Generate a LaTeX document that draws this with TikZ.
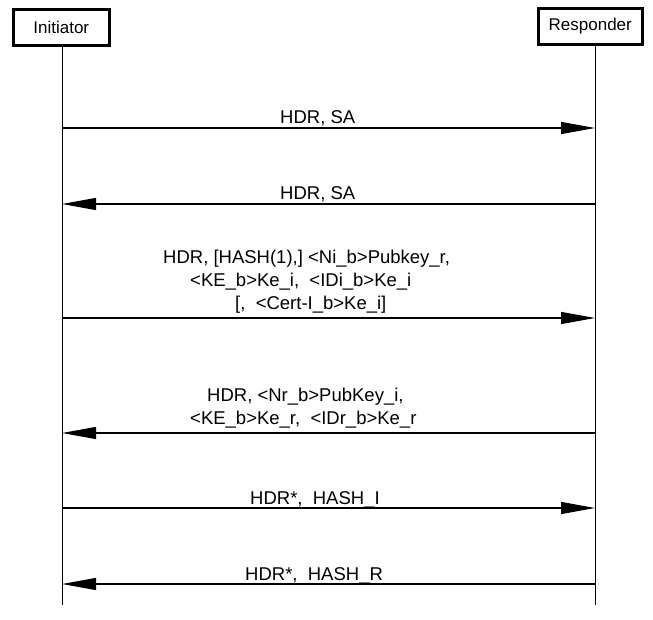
\documentclass[tikz,border=0pt]{standalone}
\usepackage{fontspec}
\setmainfont{Liberation Sans}
\usetikzlibrary{arrows.meta}
\begin{document}
\begin{tikzpicture}[x=1pt,y=-1pt,
  actor/.style={draw,line width=2.5pt,minimum height=36pt,inner sep=2pt,font=\fontsize{17}{19}\selectfont,anchor=north west},
  life/.style={line width=0.8pt},
  msg/.style={line width=1.2pt,-{Triangle[length=34pt,width=12pt]}},
  lbl/.style={font=\fontsize{18.5}{23}\selectfont,align=left,anchor=base west,inner sep=0pt}]
\useasboundingbox (0,0) rectangle (653,619);
\node[actor,minimum width=96pt] (ini) at (12,8) {Initiator};
\node[actor,minimum width=104pt] (res) at (537,7) {Responder};
\coordinate (it) at (62,46); \coordinate (ib) at (62,605);
\coordinate (rt) at (595,44); \coordinate (rb) at (595,605);
\draw[life] (it) -- (ib);
\draw[life] (rt) -- (rb);
\foreach \y/\n in {128/a,204/b,318/c,433/d,508/e,584/f}{
  \coordinate (i\n) at (62,\y); \coordinate (r\n) at (595,\y);
}
\draw[msg] (ia) -- (ra);
\draw[msg] (rb) -- (ib);
\draw[msg] (ic) -- (rc);
\draw[msg] (rd) -- (id);
\draw[msg] (ie) -- (re);
\draw[msg] (rf) -- (if);
\node[lbl] (la) at (280,123) {HDR, SA};
\node[lbl] (lb) at (280,199) {HDR, SA};
\node[lbl] (lc) at (163,309) {HDR, [HASH(1),] <Ni\_b>Pubkey\_r,\\
  \hspace*{27pt}<KE\_b>Ke\_i, \ <IDi\_b>Ke\_i\\
  \hspace*{72pt}[, \ <Cert-I\_b>Ke\_i]};
\node[lbl] (ld) at (207,424) {HDR, <Nr\_b>PubKey\_i,\\
  \hspace*{-17pt}<KE\_b>Ke\_r, \ <IDr\_b>Ke\_r};
\node[lbl] (le) at (250,504) {HDR*, \ HASH\_I};
\node[lbl] (lf) at (245,580) {HDR*, \ HASH\_R};
\end{tikzpicture}
\end{document}
